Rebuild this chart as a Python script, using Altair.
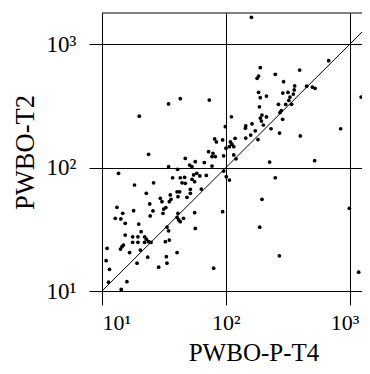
import altair as alt
import pandas as pd

# PWBO-P-T4 (x) and PWBO-T2 (y) values
t4 = [13.2, 12.8, 14.2, 14.7, 15.4, 18.0, 24.3, 25.8, 24.5, 30.5, 31.5, 31.1, 35.0, 19.8, 20.7,
      15.4, 17.7, 19.5, 17.7, 19.5, 22.1, 22.8, 22.1, 23.8, 24.9, 33.5, 34.5, 14.9, 14.5, 14.1,
      16.7, 20.4, 11.0, 10.8, 11.5, 19.2, 23.4, 28.7, 33.1, 33.5, 32.5, 35.0, 11.3, 15.9, 14.3,
      23.8, 34.5, 26.1, 22.8, 29.6, 47.1, 51.0, 40.8, 37.2, 42.9, 46.5, 44.3, 47.1, 35.6, 36.1,
      40.4, 42.4, 41.1, 48.6, 51.7, 51.7, 63.4, 56.0,
      73.6, 111, 99.1, 81.3, 83.9, 94.3, 119, 109, 112, 107, 116, 100.4, 72.6, 78.9, 77.4, 82.3,
      96.1, 116, 121, 56.7, 67.1, 77.4, 53.3, 96.1, 101, 55.0, 58.3, 61.7, 53.3, 69.6, 107,
      41.1, 40.4, 41.6, 42.9, 45.6, 56.0, 94.3, 56.7, 40.4, 79.8,
      13.6, 18.3, 20.0, 34.5, 42.9,
      190, 184, 179, 251, 395, 293, 184, 190, 213, 360, 357, 351, 318, 289, 330, 323, 305, 340,
      266, 450, 500, 526, 187, 281, 274, 196, 190, 213, 194, 288, 145, 144, 163, 201, 232, 173,
      159, 145, 272, 400, 182,
      161, 678, 1240, 847, 522, 226, 251, 196, 996, 188, 271, 1184, 32.8]
t2 = [47.7, 38.9, 38.4, 42.7, 35.4, 44.8, 50.8, 44.6, 40.6, 53.0, 46.2, 42.7, 53.0, 34.9, 30.3,
      28.4, 27.5, 27.5, 24.8, 24.8, 27.5, 26.3, 24.8, 25.1, 24.8, 32.9, 30.8, 23.6, 22.9, 21.9,
      20.5, 21.5, 22.2, 17.6, 15.0, 16.8, 18.8, 15.6, 19.0, 16.8, 25.1, 25.9, 11.8, 11.9, 10.3,
      128.5, 101.9, 75.5, 62.0, 56.5, 119, 105, 97.0, 82.9, 82.9, 83.6, 75.5, 74.7, 60.1, 55.4,
      63.8, 63.8, 58.2, 57.5, 66.8, 62.0, 67.1, 77.0,
      354, 259, 215, 171, 162, 168, 173, 162, 155, 148, 148, 144, 135, 131, 123, 123,
      125, 127, 118, 112, 110, 103, 102, 94.0, 84.5, 87.3, 90.1, 85.7, 80.5, 86.5, 79.4,
      42.7, 39.6, 37.7, 36.5, 38.9, 43.2, 44.0, 32.2, 20.5, 15.3,
      90.1, 72.4, 262, 329, 363,
      647, 554, 531, 572, 620, 498, 409, 370, 381, 460, 427, 396, 408, 403, 374, 351, 326, 327,
      327, 458, 451, 440, 312, 291, 280, 267, 253, 258, 239, 247, 218, 209, 227, 222, 207, 199,
      184, 174, 191, 181, 169,
      1660, 738, 374, 207, 114, 111, 82.9, 55.4, 46.8, 32.9, 19.3, 14.2, 47.5]

tick_values = [10, 100, 1000]
x_domain = [10, 1260]
y_domain = [10, 1798]
diag_vals = [10, 2000]
x_title = "PWBO-P-T4"
y_title = "PWBO-T2"

df = pd.DataFrame({"x": t4, "y": t2})
dd = pd.DataFrame({"x": diag_vals, "y": diag_vals})

W, H = 260, 278
FONT = "Liberation Serif"
label_expr = "datum.value < 50 ? '10¹' : (datum.value < 500 ? '10²' : '10³')"

xscale = alt.Scale(type="log", domain=x_domain, nice=False)
yscale = alt.Scale(type="log", domain=y_domain, nice=False)

xaxis = alt.Axis(values=tick_values, labelExpr=label_expr, title=x_title,
                 tickSize=14, labelPadding=7, labelFontSize=22,
                 labelOffset={"expr": "datum.value > 500 ? -5 : 0"},
                 titleX=151.5, titleY=69, titleFontSize=25,
                 titleBaseline="alphabetic", titleAlign="center", titleAngle=0)
yaxis = alt.Axis(values=tick_values, labelExpr=label_expr, title=y_title,
                 tickSize=13, labelPadding=13, titleX=-69, titleY=139,
                 titleBaseline="alphabetic", titleAlign="center", titleAngle=270)

points = alt.Chart(df).mark_circle(size=14, color="black", opacity=1).encode(
    x=alt.X("x:Q", scale=xscale, axis=xaxis),
    y=alt.Y("y:Q", scale=yscale, axis=yaxis),
)
diag = alt.Chart(dd).mark_line(color="black", strokeWidth=1, clip=True).encode(
    x=alt.X("x:Q", scale=xscale),
    y=alt.Y("y:Q", scale=yscale),
)
top = alt.Chart(pd.DataFrame({"a": [0]})).mark_rule(color="black", strokeWidth=1).encode(
    x=alt.value(0), x2=alt.value(W), y=alt.value(0)
)

chart = alt.layer(diag, points, top).properties(
    width=W, height=H,
    padding={"left": 94, "top": 5, "right": 0, "bottom": 75},
    autosize=alt.AutoSizeParams(type="none"),
).configure_view(stroke=None).configure_axis(
    grid=True, gridColor="black", gridWidth=1, gridOpacity=1,
    domainColor="black", domainWidth=1, tickColor="black", tickWidth=1,
    labelFont=FONT, labelFontSize=23, labelColor="black",
    titleFont=FONT, titleFontSize=26.5, titleFontWeight="normal", titleColor="black",
)

chart.save("out.html", embed_options={"renderer": "svg", "actions": False})
